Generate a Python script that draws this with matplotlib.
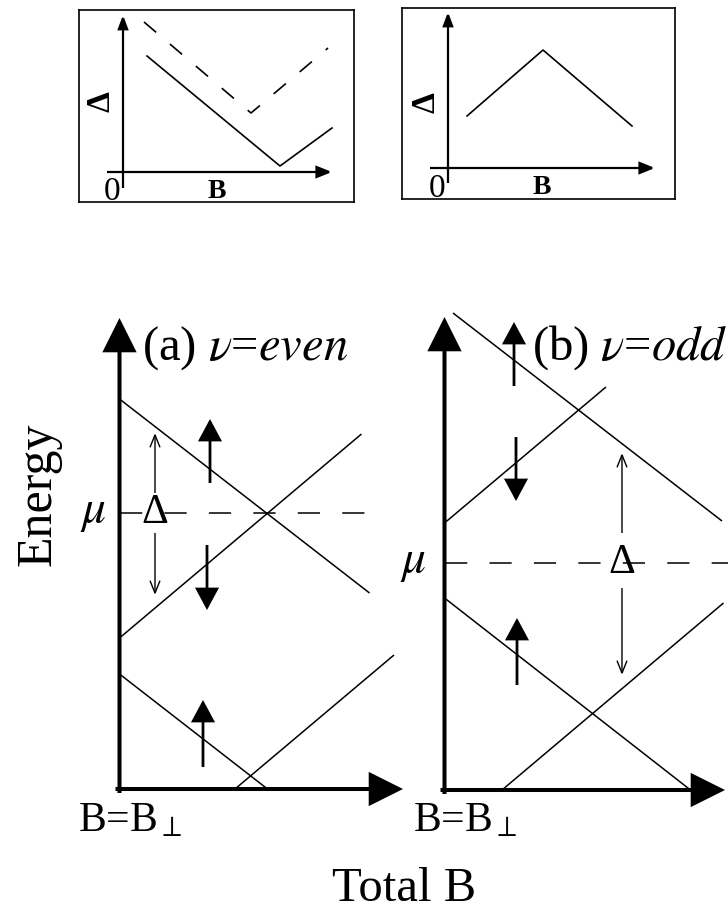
import matplotlib
matplotlib.use('Agg')
import matplotlib.pyplot as plt
from matplotlib.patches import FancyArrowPatch

plt.rcParams['font.family'] = ['Liberation Serif', 'DejaVu Serif']
plt.rcParams['mathtext.fontset'] = 'stix'
plt.rcParams['lines.scale_dashes'] = False

W, H = 728, 913

# gap vs B sketches (top insets)
gap1_b = [2.4, 15.7, 20.9]
gap1_solid = [11.6, 0.6, 4.4]
gap1_b_dash = [2.1, 12.8, 20.5]
gap1_dash = [15.0, 5.9, 12.4]
gap2_b = [1.9, 9.5, 18.4]
gap2_d = [5.2, 11.8, 4.2]

# energy levels vs total B, each line given by its two end points
levels_a_b = [[0, 25.0], [0, 24.2], [0, 14.8], [11.55, 27.45]]
levels_a_e = [[39.0, 19.6], [15.1, 35.5], [11.5, 0.0], [0.0, 13.4]]
levels_b_b = [[0.85, 27.75], [0, 16.15], [0, 24.6], [5.75, 27.9]]
levels_b_e = [[47.7, 26.9], [26.7, 40.3], [19.2, 0.0], [0.0, 18.7]]
mu_a, mu_b = 27.6, 22.7

# spin arrows: (B, tail, tip)
spins_a = [(9.05, 30.6, 37.0), (8.75, 24.4, 17.9), (8.35, 2.2, 8.9)]
spins_b = [(6.95, 40.4, 46.8), (7.15, 35.3, 28.9), (7.25, 10.5, 17.2)]
# gap arrows: B position, (from, to) up, (from, to) down
gap_a = (3.55, (29.6, 35.6), (25.6, 19.4))
gap_b = (17.75, (25.7, 33.7), (20.2, 11.5))


def px_axes(fig, x0, y0, x1, y1):
    # axes placed by pixel box (top-left origin)
    return fig.add_axes([x0 / W, 1 - y1 / H, (x1 - x0) / W, (y1 - y0) / H])


def arrow(ax, p0, p1, style, lw, **kw):
    a = FancyArrowPatch(p0, p1, arrowstyle=style, lw=lw, color='k',
                        mutation_scale=1, shrinkA=0, shrinkB=0,
                        joinstyle='miter', capstyle='butt', **kw)
    ax.add_patch(a)


fig = plt.figure(figsize=(W / 100, H / 100), dpi=100)

# ---- insets ----
def inset(box, xlim, ylim, xaxis, yaxis):
    ax = px_axes(fig, *box)
    ax.set_xlim(*xlim)
    ax.set_ylim(*ylim)
    ax.set_xticks([])
    ax.set_yticks([])
    for s in ax.spines.values():
        s.set_linewidth(1.2)
    arrow(ax, (xaxis[0], 0), (xaxis[1], 0), '-|>,head_length=9,head_width=3.6', 1.6)
    arrow(ax, (0, yaxis[0]), (0, yaxis[1]), '-|>,head_length=8,head_width=3', 1.6)
    ax.text(-1.1, -0.5, '0', fontsize=24, ha='center', va='top')
    ax.text(9.4, -0.7, 'B', fontsize=20, fontweight='bold', ha='center', va='top')
    return ax

ax1 = inset((79, 10, 354, 202), (-4.4, 23.1), (-3.0, 16.2), (-1.6, 20.9), (-1.6, 15.7))
ax1.plot(gap1_b, gap1_solid, color='k', lw=1.2)
ax1.plot(gap1_b_dash, gap1_dash, color='k', lw=1.2, dashes=(11.5, 13))
ax1.text(-2.2, 7.0, 'Δ', fontsize=24, fontweight='bold', rotation=90,
         ha='center', va='center')

ax2 = inset((402, 8, 675, 199), (-4.6, 22.7), (-3.1, 16.0), (-1.8, 20.7), (-1.5, 15.6))
ax2.plot(gap2_b, gap2_d, color='k', lw=1.2)
ax2.text(-2.2, 6.6, 'Δ', fontsize=24, fontweight='bold', rotation=90,
         ha='center', va='center')


# ---- energy level panels ----
def panel(box, origin, levels_b, levels_e, mu, spins, gap, xtip, ytip, xlast):
    x0, y0, x1, y1 = box
    ox, oy = origin
    ax = px_axes(fig, *box)
    ax.set_xlim((x0 - ox) / 10, (x1 - ox) / 10)
    ax.set_ylim((oy - y1) / 10, (oy - y0) / 10)
    ax.axis('off')
    for bb, ee in zip(levels_b, levels_e):
        ax.plot(bb, ee, color='k', lw=1.1, solid_capstyle='butt')
    ax.plot([0, xlast], [mu, mu], color='k', lw=1.1, dashes=(16, 16))
    arrow(ax, (-0.4, 0), (xtip, 0), '-|>,head_length=20,head_width=10', 2.9)
    arrow(ax, (0, -0.4), (0, ytip), '-|>,head_length=20,head_width=10', 2.9)
    for b, tail, tip in spins:
        arrow(ax, (b, tail), (b, tip), '-|>,head_length=13,head_width=7', 2.0)
    gb, up, down = gap
    arrow(ax, (gb, up[0]), (gb, up[1]), '->,head_length=9,head_width=3.6', 1.0)
    arrow(ax, (gb, down[0]), (gb, down[1]), '->,head_length=9,head_width=3.6', 1.0)
    ax.text(gb, mu, 'Δ', fontsize=30, ha='center', va='center')
    return ax

axa = panel((60, 300, 430, 830), (119.5, 789), levels_a_b, levels_a_e, mu_a,
            spins_a, gap_a, 28.35, 47.1, 24.85)
axa.text(2.25, 44.1, r'(a) $\nu$=$\mathit{even}$', fontsize=35, ha='left', va='center')
axa.text(-2.65, mu_a, r'$\mu$', fontsize=34, ha='center', va='center')
axa.text(-4.15, -1.3, r'B=B$_{\perp}$', fontsize=30, ha='left', va='top')

axb = panel((400, 300, 728, 830), (444.5, 790), levels_b_b, levels_b_e, mu_b,
            spins_b, gap_b, 28.05, 47.3, 28.35)
axb.text(8.75, 44.2, r'(b) $\nu$=$\mathit{odd}$', fontsize=35, ha='left', va='center')
axb.text(-3.15, mu_b, r'$\mu$', fontsize=34, ha='center', va='center')
axb.text(-3.15, -1.2, r'B=B$_{\perp}$', fontsize=30, ha='left', va='top')

fig.text(38 / W, 1 - 494 / H, 'Energy', fontsize=36, rotation=90,
         ha='center', va='center')
fig.text(404 / W, 1 - 889 / H, 'Total B', fontsize=35, ha='center', va='center')

fig.savefig('out.png', dpi=100)
